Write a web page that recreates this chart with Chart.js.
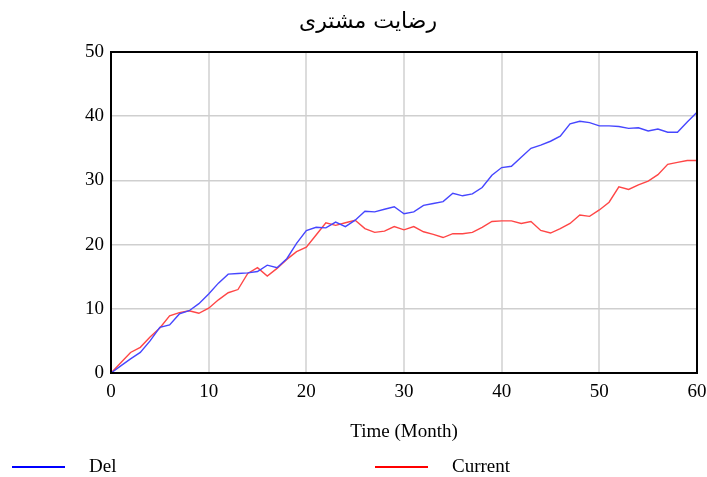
<!DOCTYPE html>
<html>
<head>
<meta charset="utf-8">
<script src="https://cdn.jsdelivr.net/npm/chart.js@4.4.0/dist/chart.umd.min.js"></script>
<style>
  html, body { margin: 0; padding: 0; background: #fff; }
  #wrap { width: 707px; height: 477px; }
</style>
</head>
<body>
<div id="wrap"><canvas id="chart" width="707" height="477"></canvas></div>
<script>
// months 0..60
const months = [0, 1, 2, 3, 4, 5, 6, 7, 8, 9, 10, 11, 12, 13, 14, 15, 16, 17, 18, 19, 20,
  21, 22, 23, 24, 25, 26, 27, 28, 29, 30, 31, 32, 33, 34, 35, 36, 37, 38, 39, 40,
  41, 42, 43, 44, 45, 46, 47, 48, 49, 50, 51, 52, 53, 54, 55, 56, 57, 58, 59, 60];

const delValues = [0, 1.1, 2.2, 3.2, 5.0, 7.1, 7.5, 9.2, 9.7, 10.8, 12.3,
  14.0, 15.4, 15.5, 15.6, 15.8, 16.8, 16.4, 17.8, 20.2, 22.2,
  22.7, 22.6, 23.5, 22.8, 23.8, 25.2, 25.1, 25.5, 25.9, 24.8,
  25.1, 26.1, 26.4, 26.7, 28.0, 27.6, 27.9, 28.9, 30.8, 32.0,
  32.2, 33.6, 35.0, 35.5, 36.1, 36.9, 38.8, 39.2, 39.0, 38.5,
  38.5, 38.4, 38.1, 38.2, 37.7, 38.0, 37.5, 37.5, 39.1, 40.6];

const currentValues = [0, 1.6, 3.2, 4.0, 5.6, 7.0, 8.9, 9.4, 9.7, 9.3, 10.1,
  11.4, 12.5, 13.0, 15.5, 16.4, 15.1, 16.3, 17.7, 18.9, 19.6,
  21.5, 23.4, 23.0, 23.4, 23.8, 22.5, 21.9, 22.1, 22.8, 22.3,
  22.8, 22.0, 21.6, 21.1, 21.7, 21.7, 21.9, 22.7, 23.6, 23.7,
  23.7, 23.3, 23.6, 22.2, 21.8, 22.5, 23.3, 24.6, 24.4, 25.4,
  26.6, 29.0, 28.6, 29.3, 29.9, 30.9, 32.5, 32.8, 33.1, 33.1];

const seriesNames = ['Del', 'Current'];
const xTicks = [0, 10, 20, 30, 40, 50, 60];
const yTicks = [0, 10, 20, 30, 40, 50];

const chartTitle = 'رضایت مشتری';
const xTitle = 'Time (Month)';

const serif = "'Liberation Serif', 'Times New Roman', serif";

function toPoints(vals) {
    return months.map((m, i) => ({ x: m, y: vals[i] }));
}

// frame round the plot area
const framePlugin = {
    id: 'frame',
    afterDatasetsDraw(chart) {
        const { ctx, chartArea: a } = chart;
        ctx.save();
        ctx.strokeStyle = '#000';
        ctx.lineWidth = 2;
        ctx.strokeRect(a.left, a.top, a.right - a.left, a.bottom - a.top);
        ctx.restore();
    }
};

// title sits a bit left of the plot centre, like the original
const topTitle = {
    id: 'topTitle',
    afterDraw(chart) {
        const ctx = chart.ctx;
        ctx.save();
        ctx.fillStyle = '#000';
        ctx.font = "22px 'DejaVu Sans', sans-serif";
        ctx.textAlign = 'center';
        ctx.textBaseline = 'middle';
        ctx.fillText(chartTitle, 368, 22);
        ctx.restore();
    }
};

// legend along the bottom, Vensim style
const bottomLegend = {
    id: 'bottomLegend',
    afterDraw(chart) {
        const ctx = chart.ctx;
        const starts = [12, 375];
        const y = 467;
        ctx.save();
        chart.data.datasets.forEach((ds, i) => {
            const x0 = starts[i];
            ctx.strokeStyle = ds.legendColor;
            ctx.lineWidth = 2;
            ctx.beginPath();
            ctx.moveTo(x0, y);
            ctx.lineTo(x0 + 53, y);
            ctx.stroke();
            ctx.fillStyle = '#000';
            ctx.font = '19px ' + serif;
            ctx.textBaseline = 'middle';
            ctx.textAlign = 'left';
            ctx.fillText(ds.label, x0 + 77, y);
        });
        ctx.restore();
    }
};

const ctx = document.getElementById('chart').getContext('2d');
new Chart(ctx, {
    type: 'line',
    data: {
        datasets: [{
            label: seriesNames[0],
            data: toPoints(delValues),
            borderColor: 'rgb(70,70,255)',
            legendColor: '#0000ff',
            borderWidth: 1.4,
            pointRadius: 0,
            tension: 0
        }, {
            label: seriesNames[1],
            data: toPoints(currentValues),
            borderColor: 'rgb(255,70,70)',
            legendColor: '#ff0000',
            borderWidth: 1.4,
            pointRadius: 0,
            tension: 0
        }]
    },
    options: {
        responsive: false,
        animation: false,
        layout: { padding: { left: 0, right: 0, top: 52, bottom: 34 } },
        plugins: {
            legend: { display: false },
            tooltip: { enabled: false },
            title: { display: false }
        },
        scales: {
            x: {
                type: 'linear',
                min: 0,
                max: 60,
                afterBuildTicks: (s) => { s.ticks = xTicks.map(v => ({ value: v })); },
                afterFit: (s) => { s.height = 70; s.paddingRight = 10; s.paddingLeft = 0; },
                grid: { color: '#dcdcdc', lineWidth: 2, drawTicks: false },
                border: { display: false },
                ticks: { color: '#000', padding: 8, maxRotation: 0, font: { family: serif, size: 19 } },
                title: {
                    display: true,
                    text: xTitle,
                    color: '#000',
                    padding: 0,
                    font: { family: serif, size: 19 }
                }
            },
            y: {
                min: 0,
                max: 50,
                afterBuildTicks: (s) => { s.ticks = yTicks.map(v => ({ value: v })); },
                afterFit: (s) => { s.width = 111; },
                grid: { color: '#cfcfcf', lineWidth: 1.5, drawTicks: false },
                border: { display: false },
                ticks: { color: '#000', padding: 7, font: { family: serif, size: 19 } }
            }
        }
    },
    plugins: [framePlugin, topTitle, bottomLegend]
});
</script>
</body>
</html>
